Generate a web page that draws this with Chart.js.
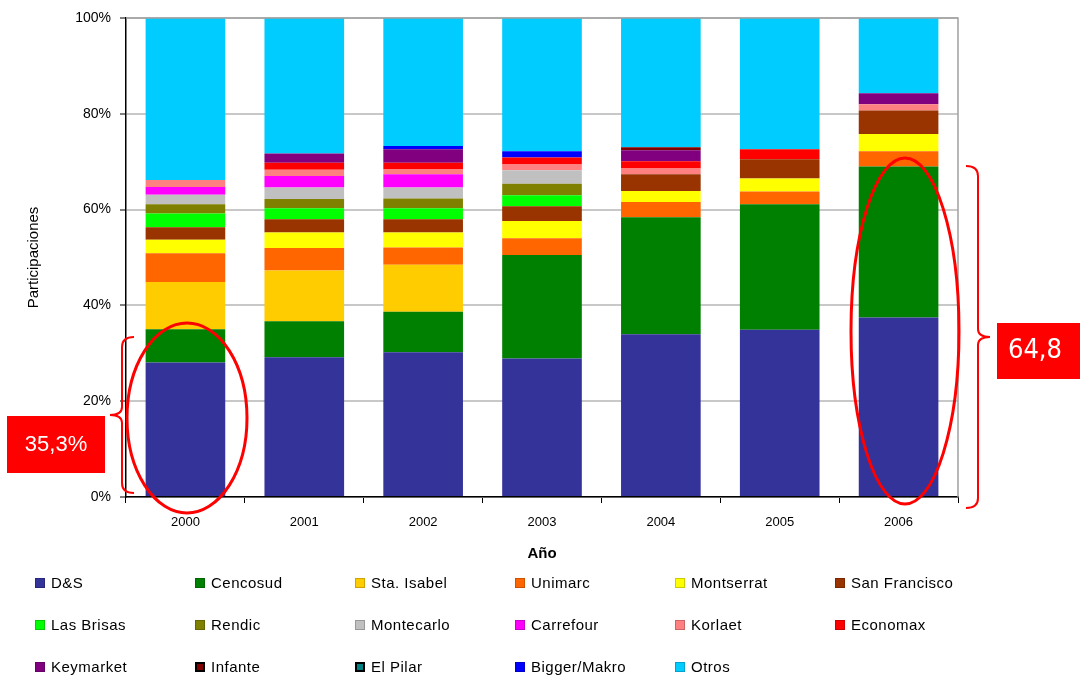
<!DOCTYPE html>
<html>
<head>
<meta charset="utf-8">
<script src="https://cdn.jsdelivr.net/npm/chart.js@4.4.1/dist/chart.umd.min.js"></script>
<style>
  html, body { margin: 0; padding: 0; background: #fff; }
  #wrap { position: relative; width: 1080px; height: 680px; overflow: hidden; }
  #chartBox { position: absolute; left: 0; top: 0; width: 1080px; height: 570px; }
  #legend { position: absolute; left: 0; top: 0; width: 1080px; height: 680px; pointer-events: none; }
  .lg-item { position: absolute; display: flex; align-items: center; font: 15px "Liberation Sans", Arial, sans-serif; color: #000; letter-spacing: 0.5px; white-space: nowrap; }
  .lg-box { width: 10px; height: 10px; margin-right: 6px; box-sizing: border-box; border: 1px solid rgba(0,0,0,0.2); }
</style>
</head>
<body>
<div id="wrap">
  <div id="chartBox"><canvas id="chart"></canvas></div>
  <div id="legend"></div>
</div>
<script>
// years and market shares (%), stacked bottom to top
const years = ['2000', '2001', '2002', '2003', '2004', '2005', '2006'];
const yTicks = [0, 20, 40, 60, 80, 100];

const dys          = [28.1, 29.2, 30.2, 28.9, 34.0, 34.9, 37.5];
const cencosud     = [6.9, 7.5, 8.5, 21.6, 24.4, 26.2, 31.5];
const staIsabel    = [9.9, 10.6, 9.8, 0, 0, 0, 0];
const unimarc      = [6.0, 4.7, 3.6, 3.5, 3.2, 2.7, 3.2];
const montserrat   = [2.8, 3.2, 3.1, 3.6, 2.3, 2.7, 3.6];
const sanFrancisco = [2.6, 2.8, 2.8, 3.1, 3.5, 4.0, 4.9];
const lasBrisas    = [2.9, 2.3, 2.3, 2.3, 0, 0, 0];
const rendic       = [1.9, 1.9, 2.0, 2.4, 0, 0, 0];
const montecarlo   = [2.0, 2.4, 2.3, 2.8, 0, 0, 0];
const carrefour    = [1.6, 2.4, 2.8, 0, 0, 0, 0];
const korlaet      = [1.5, 1.3, 1.1, 1.2, 1.2, 0, 1.3];
const economax     = [0, 1.5, 1.3, 1.5, 1.5, 2.1, 0];
const keymarket    = [0, 1.9, 2.8, 0, 2.3, 0, 2.3];
const infante      = [0, 0, 0, 0, 0.6, 0, 0];
const elPilar      = [0, 0, 0, 0, 0, 0, 0];
const biggerMakro  = [0, 0, 0.7, 1.3, 0, 0, 0];
const otros        = [33.8, 28.3, 26.7, 27.8, 27.0, 27.4, 15.7];

const SERIES = [
  ['D&S', dys, '#333399'],
  ['Cencosud', cencosud, '#008000'],
  ['Sta. Isabel', staIsabel, '#FFCC00'],
  ['Unimarc', unimarc, '#FF6600'],
  ['Montserrat', montserrat, '#FFFF00'],
  ['San Francisco', sanFrancisco, '#993300'],
  ['Las Brisas', lasBrisas, '#00FF00'],
  ['Rendic', rendic, '#808000'],
  ['Montecarlo', montecarlo, '#C0C0C0'],
  ['Carrefour', carrefour, '#FF00FF'],
  ['Korlaet', korlaet, '#FF8080'],
  ['Economax', economax, '#FF0000'],
  ['Keymarket', keymarket, '#800080'],
  ['Infante', infante, '#800000'],
  ['El Pilar', elPilar, '#008080'],
  ['Bigger/Makro', biggerMakro, '#0000FF'],
  ['Otros', otros, '#00CCFF']
];

const datasets = SERIES.map(([label, data, color]) => ({
  label, data, backgroundColor: color, borderWidth: 0,
  barPercentage: 0.67, categoryPercentage: 1
}));

// red hand-drawn marks on top of the chart
const annotations = {
  id: 'annotations',
  afterDraw(chart) {
    const ctx = chart.ctx;
    const a = chart.chartArea;
    ctx.save();
    // gray frame on top/right
    ctx.strokeStyle = '#a0a0a0';
    ctx.lineWidth = 1.5;
    ctx.beginPath();
    ctx.moveTo(a.left, a.top); ctx.lineTo(a.right, a.top); ctx.lineTo(a.right, a.bottom);
    ctx.stroke();

    ctx.strokeStyle = '#FF0000';
    ctx.lineWidth = 3;
    ctx.beginPath(); ctx.ellipse(187, 418, 60, 95, 0, 0, Math.PI * 2); ctx.stroke();
    ctx.beginPath(); ctx.ellipse(905, 331, 54, 173, 0, 0, Math.PI * 2); ctx.stroke();

    ctx.lineWidth = 2;
    const brace = (x, y1, y2, dir) => {
      const ym = (y1 + y2) / 2;
      ctx.beginPath();
      ctx.moveTo(x - dir * 12, y1);
      ctx.quadraticCurveTo(x, y1, x, y1 + 10);
      ctx.lineTo(x, ym - 8);
      ctx.quadraticCurveTo(x, ym, x + dir * 12, ym);
      ctx.quadraticCurveTo(x, ym, x, ym + 8);
      ctx.lineTo(x, y2 - 10);
      ctx.quadraticCurveTo(x, y2, x - dir * 12, y2);
      ctx.stroke();
    };
    brace(122, 337, 493, -1);
    brace(978, 166, 508, 1);

    ctx.fillStyle = '#FF0000';
    ctx.fillRect(7, 416, 98, 57);
    ctx.fillRect(997, 323, 83, 56);
    ctx.fillStyle = '#FFFFFF';
    ctx.textAlign = 'center';
    ctx.textBaseline = 'middle';
    ctx.font = '22px "Liberation Sans", Arial, sans-serif';
    ctx.fillText('35,3%', 56, 445);
    ctx.font = '27px "Liberation Sans Narrow", "DejaVu Sans Condensed", Arial, sans-serif';
    ctx.fillText('64,8', 1035, 351);
    ctx.restore();
  }
};

Chart.defaults.font.family = '"Liberation Sans", Arial, sans-serif';
Chart.defaults.color = '#000';

new Chart(document.getElementById('chart'), {
  type: 'bar',
  data: { labels: years, datasets },
  options: {
    responsive: true, maintainAspectRatio: false, animation: false,
    layout: { padding: { left: 0, right: 122, top: 18, bottom: 0 } },
    plugins: { legend: { display: false }, tooltip: { enabled: false } },
    scales: {
      x: {
        stacked: true,
        afterFit: (s) => { s.height = 73; },
        grid: { offset: true, drawOnChartArea: false, tickColor: '#000', tickLength: 6 },
        border: { color: '#000', width: 1.5 },
        ticks: { font: { size: 13 }, padding: 12, color: '#000' },
        title: { display: true, text: 'Año', font: { size: 15, weight: 'bold' }, padding: { top: 4, bottom: 7 } }
      },
      y: {
        stacked: true, min: 0, max: 100,
        afterFit: (s) => { s.width = 126; },
        afterBuildTicks: (s) => { s.ticks = yTicks.map(v => ({ value: v })); },
        grid: { color: '#c8c8c8', lineWidth: 2, tickColor: '#000', tickWidth: 1, tickLength: 6 },
        border: { color: '#000', width: 1.5 },
        ticks: { font: { size: 14 }, padding: 9, color: '#000', callback: (v) => v + '%' },
        title: { display: true, text: 'Participaciones', font: { size: 15 }, padding: { top: 25 } }
      }
    }
  },
  plugins: [annotations]
});

// legend laid out as a fixed 6-column grid
const legend = document.getElementById('legend');
const rowsY = [583, 625, 667];
SERIES.forEach(([label, , color], i) => {
  const item = document.createElement('div');
  item.className = 'lg-item';
  item.style.left = (35 + 160 * (i % 6)) + 'px';
  item.style.top = (rowsY[Math.floor(i / 6)] - 9) + 'px';
  const box = document.createElement('span');
  box.className = 'lg-box';
  box.style.background = color;
  if (label === 'Infante' || label === 'El Pilar') box.style.border = '2px solid #000';
  item.appendChild(box);
  item.appendChild(document.createTextNode(label));
  legend.appendChild(item);
});
</script>
</body>
</html>
